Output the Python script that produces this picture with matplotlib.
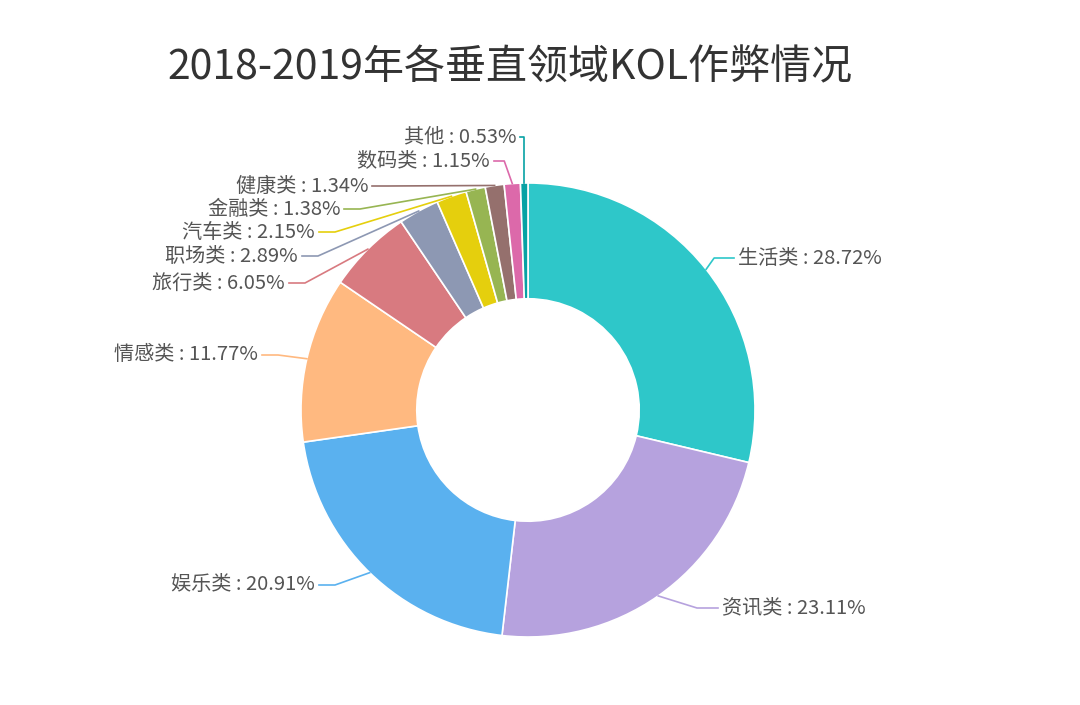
import numpy as np
import matplotlib.pyplot as plt

plt.rcParams['font.family'] = 'Noto Sans CJK SC'

# Data
categories = ['生活类', '资讯类', '娱乐类', '情感类', '旅行类', '职场类',
              '汽车类', '金融类', '健康类', '数码类', '其他']
shares = [28.72, 23.11, 20.91, 11.77, 6.05, 2.89, 2.15, 1.38, 1.34, 1.15, 0.53]
colors = ['#2ec7c9', '#b6a2de', '#5ab1ef', '#ffb980', '#d87a80', '#8d98b3',
          '#e5cf0d', '#97b552', '#95706d', '#dc69aa', '#07a2a4']

# label layout (pixel coords of the reference, y measured from top)
label_x = [738, 722, 315, 258, 285, 298, 315, 340, 368, 490, 516]
label_y = [258, 608, 585, 355, 283, 256, 232, 209, 186, 161, 137]

W, H = 1080, 705
fig = plt.figure(figsize=(W / 100, H / 100), dpi=100)
ax = fig.add_axes([0, 0, 1, 1])

cx, cy, r = 528, H - 410, 227
wedges, _ = ax.pie(shares, colors=colors, startangle=90, counterclock=False,
                   radius=r, center=(cx, cy), frame=True,
                   wedgeprops=dict(width=r * 0.51, edgecolor='white', linewidth=1.2))
ax.set_xlim(0, W)
ax.set_ylim(0, H)
ax.set_aspect('equal')
ax.axis('off')

for w, name, val, col, tx, ty in zip(wedges, categories, shares, colors, label_x, label_y):
    ang = np.deg2rad((w.theta1 + w.theta2) / 2)
    x0, y0 = cx + r * np.cos(ang), cy + r * np.sin(ang)
    yl = H - ty
    right = np.cos(ang) > 0.02
    if right:
        p1 = (max(x0 + 8, tx - 25), yl)
        p2 = (tx - 4, yl)
        ha = 'left'
    else:
        p1 = (min(x0 - 8, tx + 20), yl)
        p2 = (tx + 4, yl)
        ha = 'right'
    if name == '其他':
        p1 = (x0, yl)
        p2 = (tx + 4, yl)
    ax.plot([x0, p1[0], p2[0]], [y0, p1[1], p2[1]], color=col, lw=1.2)
    ax.text(tx, yl, f'{name} : {val:.2f}%', ha=ha, va='center',
            fontsize=14.5, color='#555555')

fig.text(510 / W, 1 - 68 / H, '2018-2019年各垂直领域KOL作弊情况',
         ha='center', va='center', fontsize=29.5, color='#333333')

fig.savefig('out.png', dpi=100, facecolor='white')
